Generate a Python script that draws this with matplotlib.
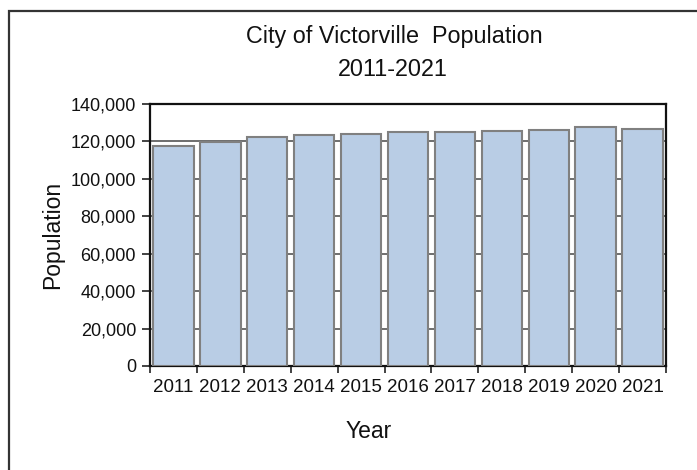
import numpy as np
import matplotlib.pyplot as plt
from matplotlib.patches import Rectangle
from matplotlib.ticker import FuncFormatter

plt.rcParams['font.family'] = ['Liberation Sans', 'DejaVu Sans']

years = ['2011', '2012', '2013', '2014', '2015', '2016', '2017', '2018', '2019', '2020', '2021']
population = [117300, 119700, 122500, 123200, 123900, 124800, 124800, 125500, 126100, 127700, 126900]
yticks = [0, 20000, 40000, 60000, 80000, 100000, 120000, 140000]

W, H = 697, 470
fig = plt.figure(figsize=(W / 100, H / 100), dpi=100)
ax = fig.add_axes([150 / W, (H - 366) / H, (666 - 150) / W, (366 - 104) / H])

x = np.arange(len(years))
ax.bar(x, population, width=0.86, color='#b9cde5', edgecolor='#808080', linewidth=1.5, zorder=3)

ax.set_xlim(-0.5, len(years) - 0.5)
ax.set_ylim(0, 140000)
ax.set_yticks(yticks)
ax.yaxis.set_major_formatter(FuncFormatter(lambda v, p: '{:,.0f}'.format(v)))
ax.set_xticks(x)
ax.set_xticklabels(years)
ax.set_xticks(np.arange(len(years) + 1) - 0.5, minor=True)
ax.tick_params(axis='x', which='major', length=0, pad=9, labelsize=13.5, colors='#111111')
ax.tick_params(axis='x', which='minor', length=5, width=1.2, color='#222222')
ax.tick_params(axis='y', length=6, width=1.2, pad=4, labelsize=13, color='#222222', labelcolor='#111111')

ax.grid(axis='y', color='#555555', linewidth=1.2, zorder=0)
ax.set_axisbelow(True)
for s in ax.spines.values():
    s.set_color('#111111')
    s.set_linewidth(1.6)

fig.text(394 / W, 1 - 37 / H, 'City of Victorville  Population', ha='center', va='center', fontsize=16.8, color='#111111')
fig.text(393 / W, 1 - 70 / H, '2011-2021', ha='center', va='center', fontsize=16.8, color='#111111')
fig.text(53 / W, 1 - 235 / H, 'Population', rotation=90, ha='center', va='center', fontsize=16.5, color='#111111')
fig.text(369 / W, 1 - 431 / H, 'Year', ha='center', va='center', fontsize=16.5, color='#111111')

fig.patches.append(Rectangle((9 / W, -0.1), 1.0, 1 - 11 / H + 0.1, transform=fig.transFigure,
                             fill=False, edgecolor='#333333', linewidth=1.6))

fig.savefig('out.png', dpi=100)
